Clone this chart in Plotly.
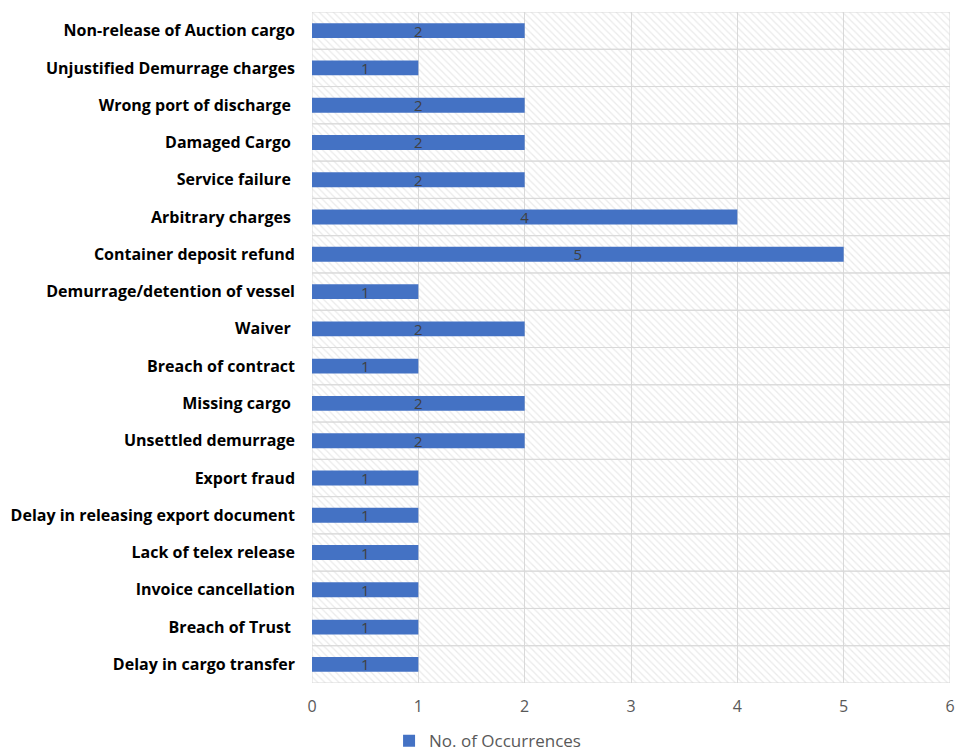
import plotly.graph_objects as go

categories = [
    "Non-release of Auction cargo",
    "Unjustified Demurrage charges",
    "Wrong port of discharge ",
    "Damaged Cargo ",
    "Service failure ",
    "Arbitrary charges ",
    "Container deposit refund",
    "Demurrage/detention of vessel",
    "Waiver ",
    "Breach of contract",
    "Missing cargo ",
    "Unsettled demurrage",
    "Export fraud",
    "Delay in releasing export document",
    "Lack of telex release",
    "Invoice cancellation",
    "Breach of Trust ",
    "Delay in cargo transfer",
]
occurrences = [2, 1, 2, 2, 2, 4, 5, 1, 2, 1, 2, 2, 1, 1, 1, 1, 1, 1]
x_max = 6
series_name = "No. of Occurrences"

fig = go.Figure()

# hatched plot-area background (one band per category)
fig.add_trace(go.Bar(
    y=categories,
    x=[x_max] * len(categories),
    orientation="h",
    width=1,
    marker=dict(
        color="rgba(0,0,0,0)",
        line=dict(color="#d9d9d9", width=1),
        pattern=dict(shape="\\", fgcolor="#d6d6d6", bgcolor="rgba(0,0,0,0)",
                     size=5, solidity=0.25),
    ),
    showlegend=False,
    hoverinfo="skip",
))

fig.add_trace(go.Bar(
    y=categories,
    x=occurrences,
    orientation="h",
    width=0.4,
    name=series_name,
    marker=dict(color="#4472c4", line=dict(width=0)),
    text=occurrences,
    textposition="inside",
    insidetextanchor="middle",
    textangle=0,
    constraintext="none",
    textfont=dict(family="Open Sans", size=15, color="#404040"),
))

fig.update_layout(
    width=956,
    height=755,
    barmode="overlay",
    plot_bgcolor="white",
    paper_bgcolor="white",
    margin=dict(l=312, r=6, t=12, b=72),
    showlegend=True,
    legend=dict(
        orientation="h",
        xref="container", yref="container",
        x=0.51, xanchor="center",
        y=0.042, yanchor="top",
        font=dict(family="Open Sans", size=17, color="#595959"),
        itemwidth=30,
    ),
    xaxis=dict(
        range=[0, x_max],
        dtick=1,
        showgrid=True,
        gridcolor="#d9d9d9",
        gridwidth=1,
        zeroline=False,
        showline=False,
        automargin=False,
        tickfont=dict(family="Open Sans", size=16, color="#595959"),
        ticklabelstandoff=12,
    ),
    yaxis=dict(
        autorange="reversed",
        showgrid=False,
        zeroline=False,
        showline=False,
        automargin=False,
        tickfont=dict(family="Open Sans", size=16, color="#000000", weight="bold"),
        ticklabelstandoff=16,
    ),
)

fig.write_html("out.html")
